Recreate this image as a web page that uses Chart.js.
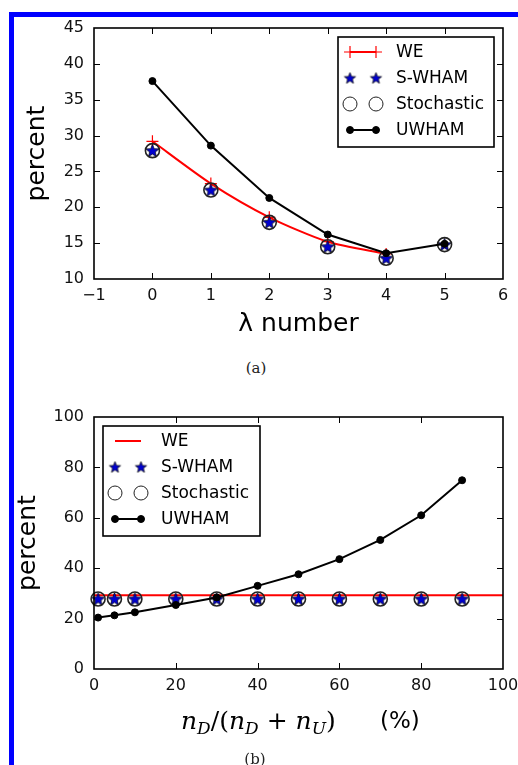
<!DOCTYPE html>
<html>
<head>
<meta charset="utf-8">
<script src="https://cdn.jsdelivr.net/npm/chart.js@4.4.0/dist/chart.umd.min.js"></script>
<style>
  body { margin: 0; background: #fff; width: 518px; height: 765px; overflow: hidden; position: relative; }
  #frame { position: absolute; left: 9px; top: 12px; width: 520px; height: 760px;
           border-left: 5px solid #0000ff; border-top: 5px solid #0000ff; }
  .box { position: absolute; left: 0; width: 518px; }
  #boxA { top: 17px; height: 330px; }
  #boxB { top: 385px; height: 380px; }
  .cap { position: absolute; font-family: "DejaVu Serif", serif; font-size: 15px; color: #222;
         transform: translate(-50%, -50%); white-space: nowrap; }
  .xl { position: absolute; white-space: nowrap; color: #000; }
  #xlabM { left: 181px; top: 706px; font-family: "DejaVu Serif", serif; font-size: 25px; }
  #xlabM sub { font-size: 17px; font-style: italic; vertical-align: -5px; }
  #xlabP { left: 380px; top: 707px; font-family: "DejaVu Sans", sans-serif; font-size: 23px; }
</style>
</head>
<body>
<div id="frame"></div>
<div class="box" id="boxA"><canvas id="chartA" width="518" height="330"></canvas></div>
<div class="box" id="boxB"><canvas id="chartB" width="518" height="380"></canvas></div>
<div class="cap" style="left:256px; top:368px;">(a)</div>
<div class="xl" id="xlabM"><i>n</i><sub>D</sub>/(<i>n</i><sub>D</sub> + <i>n</i><sub>U</sub>)</div>
<div class="xl" id="xlabP">(%)</div>
<div class="cap" style="left:255px; top:759px;">(b)</div>
<script>
// panel (a): lambda number
const lambdaX = [0, 1, 2, 3, 4, 5];
const weA = [29.2, 23.3, 18.6, 15.2, 13.5];
const swhamA = [27.9, 22.4, 17.9, 14.5, 12.9, 14.8];
const stochA = [27.9, 22.4, 17.9, 14.5, 12.9, 14.8];
const uwhamA = [37.6, 28.6, 21.3, 16.2, 13.6, 14.9];
const ticksAx = [-1, 0, 1, 2, 3, 4, 5, 6];
const ticksAy = [10, 15, 20, 25, 30, 35, 40, 45];

// panel (b): n_D/(n_D+n_U) in %
const fracX = [1, 5, 10, 20, 30, 40, 50, 60, 70, 80, 90];
const weBx = [0, 100];
const weB = [29.3, 29.3];
const swhamB = [27.8, 27.8, 27.8, 27.8, 27.8, 27.8, 27.8, 27.8, 27.8, 27.8, 27.8];
const stochB = [27.8, 27.8, 27.8, 27.8, 27.8, 27.8, 27.8, 27.8, 27.8, 27.8, 27.8];
const uwhamB = [20.4, 21.3, 22.5, 25.4, 28.4, 33.0, 37.6, 43.6, 51.2, 61.0, 74.9];
const ticksBx = [0, 20, 40, 60, 80, 100];
const ticksBy = [0, 20, 40, 60, 80, 100];

const pts = (xs, ys) => ys.map((y, i) => ({ x: xs[i], y: y }));
const fmtTick = v => (v < 0 ? '\u2212' + Math.abs(v) : String(v));

// filled 5-point star like matplotlib '*'
function makeStar(r) {
  const s = Math.ceil(r * 2 + 3);
  const c = document.createElement('canvas');
  c.width = s; c.height = s;
  const g = c.getContext('2d');
  g.beginPath();
  for (let i = 0; i < 10; i++) {
    const rr = i % 2 ? r * 0.42 : r;
    const ang = -Math.PI / 2 + i * Math.PI / 5;
    g.lineTo(s / 2 + rr * Math.cos(ang), s / 2 + 0.5 + rr * Math.sin(ang));
  }
  g.closePath();
  g.fillStyle = '#0000d0';
  g.fill();
  g.strokeStyle = '#000';
  g.lineWidth = 0.7;
  g.stroke();
  return c;
}
const star = makeStar(7);
const starSmall = makeStar(6);

function drawMarker(ctx, ds, x, y, leg) {
  const r = ds.pointRadius;
  if (!r) return;
  const st = ds.pointStyle;
  ctx.save();
  if (st instanceof HTMLCanvasElement) {
    const im = leg ? starSmall : st;
    ctx.drawImage(im, x - im.width / 2, y - im.height / 2);
  } else if (st === 'cross') {
    ctx.strokeStyle = ds.pointBorderColor;
    ctx.lineWidth = ds.pointBorderWidth;
    ctx.beginPath();
    ctx.moveTo(x - r, y); ctx.lineTo(x + r, y);
    ctx.moveTo(x, y - r); ctx.lineTo(x, y + r);
    ctx.stroke();
  } else {
    ctx.beginPath();
    ctx.arc(x, y, r, 0, Math.PI * 2);
    ctx.fillStyle = ds.pointBackgroundColor;
    ctx.fill();
    ctx.strokeStyle = ds.pointBorderColor;
    ctx.lineWidth = leg ? 1 : ds.pointBorderWidth;
    ctx.stroke();
  }
  ctx.restore();
}

// matplotlib style frame: box, inward ticks on all sides, boxed legend
const mplFrame = {
  id: 'mplFrame',
  afterDraw(chart, args, opts) {
    const ctx = chart.ctx, a = chart.chartArea;
    const sx = chart.scales.x, sy = chart.scales.y;
    ctx.save();
    ctx.strokeStyle = '#000';
    ctx.lineWidth = 1;
    ctx.beginPath();
    sx.ticks.forEach(t => {
      const p = Math.round(sx.getPixelForValue(t.value)) + 0.5;
      if (p <= a.left + 2 || p >= a.right - 2) return;
      ctx.moveTo(p, a.bottom); ctx.lineTo(p, a.bottom - 6);
      ctx.moveTo(p, a.top); ctx.lineTo(p, a.top + 6);
    });
    sy.ticks.forEach(t => {
      const p = Math.round(sy.getPixelForValue(t.value)) + 0.5;
      if (p <= a.top + 2 || p >= a.bottom - 2) return;
      ctx.moveTo(a.left, p); ctx.lineTo(a.left + 6, p);
      ctx.moveTo(a.right, p); ctx.lineTo(a.right - 6, p);
    });
    ctx.stroke();
    ctx.lineWidth = 1.6;
    ctx.strokeRect(a.left, a.top, a.right - a.left, a.bottom - a.top);

    const L = opts.legend;
    const bx = L.anchor === 'right' ? a.right - L.dx - L.w : a.left + L.dx;
    const by = a.top + L.dy;
    ctx.fillStyle = '#fff';
    ctx.fillRect(bx, by, L.w, L.h);
    ctx.strokeRect(bx, by, L.w, L.h);
    ctx.font = '17px "DejaVu Sans"';
    ctx.textBaseline = 'middle';
    chart.data.datasets.forEach((ds, i) => {
      const y = by + 15 + i * 26;
      const x1 = bx + 12, x2 = bx + 38;
      if (ds.showLine) {
        ctx.strokeStyle = ds.borderColor;
        ctx.lineWidth = ds.borderWidth;
        ctx.beginPath();
        ctx.moveTo(x1, y); ctx.lineTo(x2, y);
        ctx.stroke();
      }
      drawMarker(ctx, ds, x1, y, true);
      drawMarker(ctx, ds, x2, y, true);
      ctx.fillStyle = '#000';
      ctx.fillText(ds.label, bx + 58, y + 1);
    });
    ctx.restore();
  }
};

function axis(min, max, ticks, horizontal, size, title, titlePad) {
  return {
    type: 'linear', min: min, max: max,
    grid: { display: false, drawTicks: false },
    border: { display: false },
    ticks: {
      color: '#111', padding: horizontal ? 7 : 10, autoSkip: false, maxRotation: 0,
      font: { family: 'DejaVu Sans', size: 16 },
      callback: fmtTick
    },
    title: title ? {
      display: true, text: title, color: '#000',
      font: { family: 'DejaVu Sans', size: 25 }, padding: titlePad
    } : { display: false },
    afterBuildTicks: s => { s.ticks = ticks.map(v => ({ value: v })); },
    afterFit: s => {
      if (horizontal) s.height = size; else s.width = size;
      s.paddingLeft = 0; s.paddingRight = 0; s.paddingTop = 0; s.paddingBottom = 0;
    }
  };
}

function sets(xs, we, weXs, sw, so, uw, weMarkers) {
  return [
    { label: 'WE', data: pts(weXs, we), showLine: true, borderColor: '#ff0000', borderWidth: 2,
      tension: 0.25, pointStyle: 'cross', pointRadius: weMarkers ? 6 : 0,
      pointBorderColor: '#ff0000', pointBorderWidth: 1.2, order: 4, clip: false },
    { label: 'S-WHAM', data: pts(xs, sw), showLine: false, pointStyle: star, pointRadius: 7,
      order: 3, clip: false },
    { label: 'Stochastic', data: pts(xs, so), showLine: false, pointStyle: 'circle', pointRadius: 7,
      pointBackgroundColor: 'rgba(0,0,0,0)', pointBorderColor: '#222', pointBorderWidth: 1.6,
      order: 2, clip: false },
    { label: 'UWHAM', data: pts(xs, uw), showLine: true, borderColor: '#000', borderWidth: 2,
      pointStyle: 'circle', pointRadius: 3.5, pointBackgroundColor: '#000',
      pointBorderColor: '#000', pointBorderWidth: 1, order: 1, clip: false }
  ];
}

new Chart(document.getElementById('chartA'), {
  type: 'scatter',
  data: { datasets: sets(lambdaX, weA, lambdaX, swhamA, stochA, uwhamA, true) },
  options: {
    responsive: false, animation: false, events: [],
    layout: { padding: { top: 11, right: 15, left: 0, bottom: 0 } },
    scales: {
      x: axis(-1, 6, ticksAx, true, 68, '\u03bb number', { top: 0, bottom: 8 }),
      y: axis(10, 45, ticksAy, false, 94, 'percent', { top: 22, bottom: 0 })
    },
    plugins: {
      legend: { display: false }, tooltip: { enabled: false },
      mplFrame: { legend: { anchor: 'right', dx: 9, dy: 9, w: 156, h: 110 } }
    }
  },
  plugins: [mplFrame]
});

new Chart(document.getElementById('chartB'), {
  type: 'scatter',
  data: { datasets: sets(fracX, weB, weBx, swhamB, stochB, uwhamB, false) },
  options: {
    responsive: false, animation: false, events: [],
    layout: { padding: { top: 32, right: 15, left: 0, bottom: 0 } },
    scales: {
      x: axis(0, 100, ticksBx, true, 96, null, null),
      y: axis(0, 100, ticksBy, false, 94, 'percent', { top: 13, bottom: 0 })
    },
    plugins: {
      legend: { display: false }, tooltip: { enabled: false },
      mplFrame: { legend: { anchor: 'left', dx: 9, dy: 9, w: 157, h: 110 } }
    }
  },
  plugins: [mplFrame]
});
</script>
</body>
</html>
